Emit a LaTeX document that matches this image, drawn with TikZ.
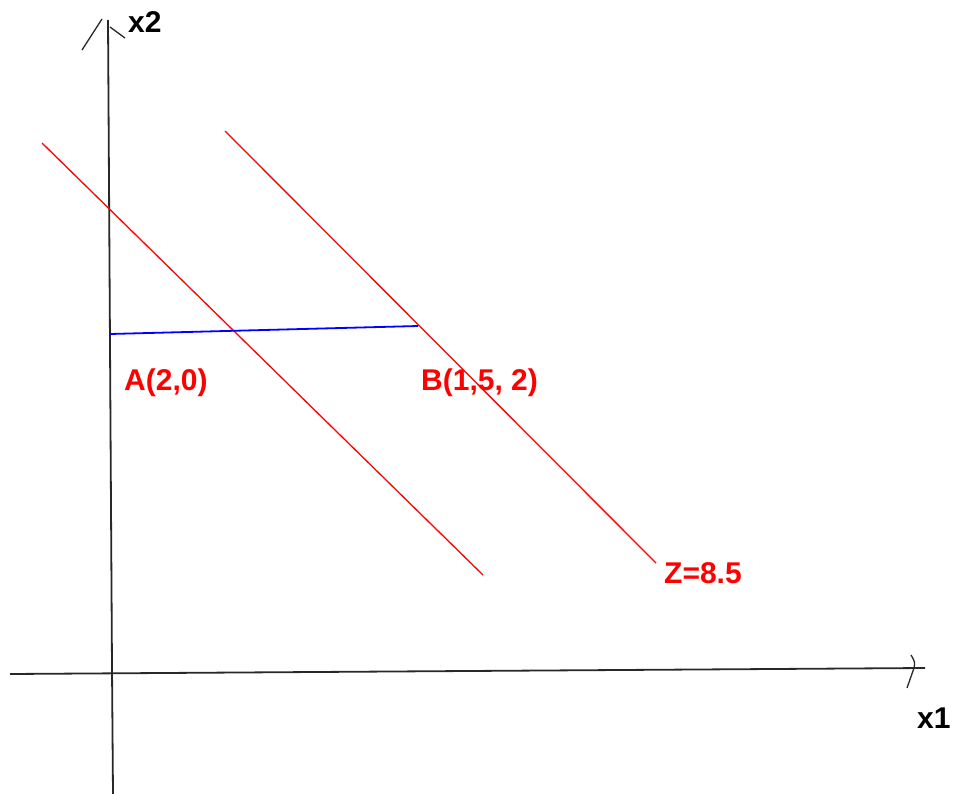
\documentclass[tikz,border=0pt]{standalone}
\usepackage{fontspec}
\setmainfont{Liberation Sans}
\begin{document}
\begin{tikzpicture}[x=1pt,y=-1pt,
  axis/.style={draw={rgb,255:red,40;green,40;blue,40}, line width=1.8pt},
  redline/.style={draw=red, line width=1.3pt},
  blueline/.style={draw=blue, line width=1.8pt},
  lbl/.style={font=\fontsize{30}{36}\selectfont\bfseries, anchor=base west, inner sep=0pt},
  redlbl/.style={lbl, text=red}]
\useasboundingbox (0,0) rectangle (955,794);
\fill[white] (0,0) rectangle (955,794);
% axes
\coordinate (ybot) at (113,794);
\coordinate (ymid) at (112,668);
\coordinate (ytop) at (108,20);
\coordinate (xl) at (10,674);
\coordinate (xr) at (925,668);
\draw[axis] (ybot) -- (ymid) -- (ytop);
\draw[axis] (xl) -- (xr);
% arrowheads
\coordinate (ya1) at (82,50);
\coordinate (ya2) at (102,19);
\coordinate (ya3) at (110,27);
\coordinate (ya4) at (125,38);
\draw[axis, line width=1.3pt] (ya1) -- (ya2);
\draw[axis, line width=1.3pt] (ya3) -- (ya4);
\coordinate (xa1) at (911,655);
\coordinate (xa2) at (914,668);
\coordinate (xa3) at (907,688);
\draw[axis, line width=1.3pt] (xa1) .. controls (915,662) .. (xa2) -- (xa3);
% lines
\coordinate (r1a) at (42,143);
\coordinate (r1b) at (483,575);
\coordinate (r2a) at (225,131);
\coordinate (r2b) at (656,563);
\coordinate (bla) at (110,334);
\coordinate (blb) at (418,326);
\draw[redline] (r1a) -- (r1b);
\draw[redline] (r2a) -- (r2b);
\draw[blueline] (bla) -- (blb);
% labels
\node[lbl] (x2) at (128,33) {x2};
\node[lbl] (x1) at (917,728) {x1};
\node[redlbl] (A) at (124,390) {A(2,0)};
\node[redlbl] (B) at (421,390) {B(1,5, 2)};
\node[redlbl] (Z) at (664,583) {Z=8.5};
\end{tikzpicture}
\end{document}
